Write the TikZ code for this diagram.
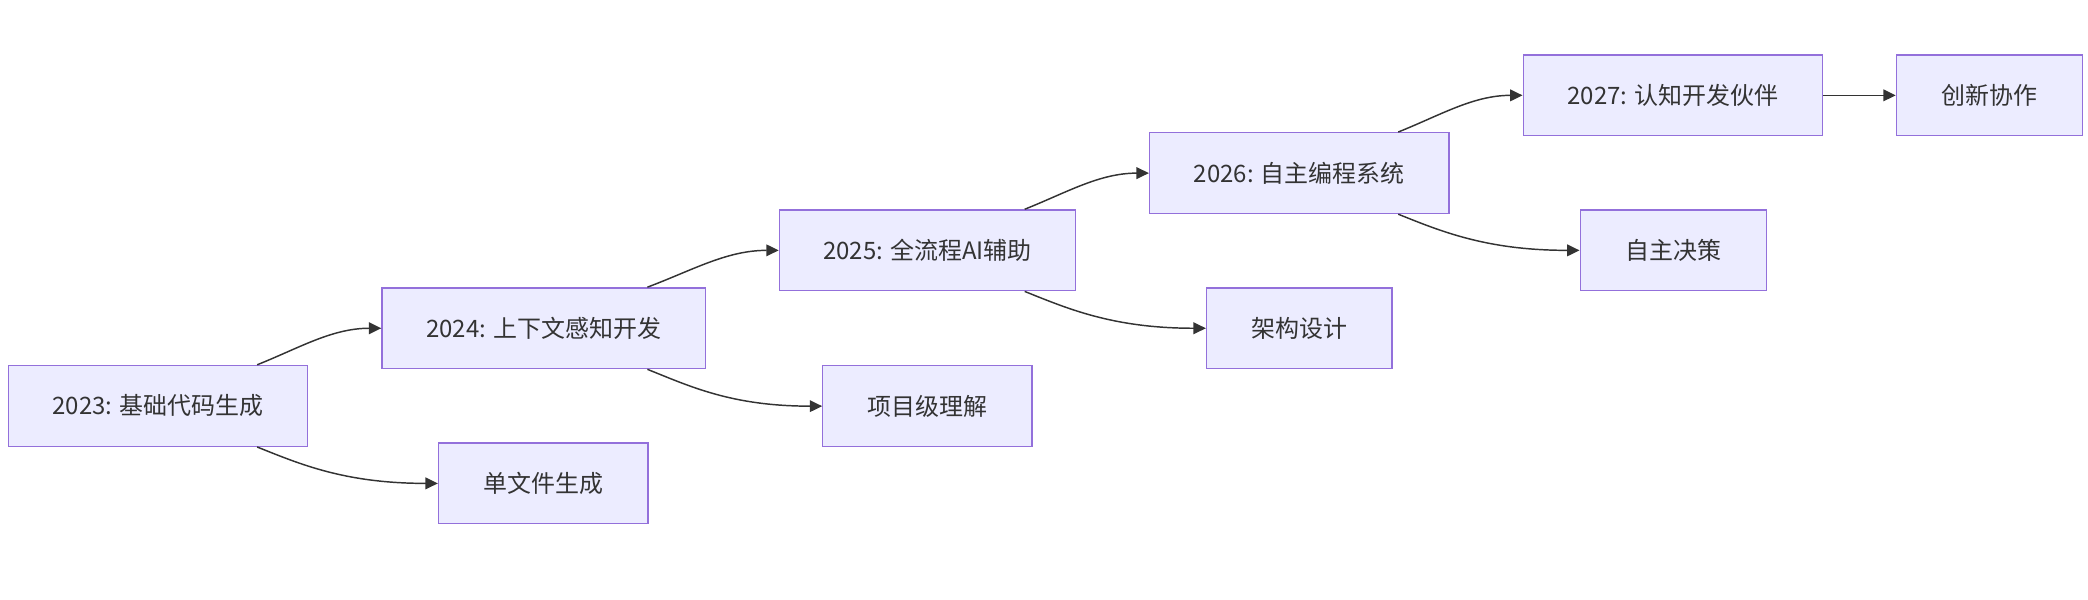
\documentclass[tikz,border=0pt]{standalone}
\usepackage{fontspec}
\setmainfont{Noto Sans CJK SC}
\usetikzlibrary{arrows.meta,calc}
\definecolor{boxfill}{HTML}{ECECFF}
\definecolor{boxline}{HTML}{9370DB}
\definecolor{edgecol}{HTML}{333333}
\begin{document}
\begin{tikzpicture}[x=1pt,y=-1pt,
  box/.style={draw=boxline,fill=boxfill,line width=1pt,minimum height=60.7pt,inner sep=0pt,text=edgecol,font=\fontsize{18}{22}\selectfont},
  edge/.style={draw=edgecol,line width=1.1pt,-{Triangle[length=9.3pt,width=8.8pt]}}]
\useasboundingbox (0,0) rectangle (1568,450);
\node[box,minimum width=224.8pt] (n23) at (118.6,304.8) {2023: 基础代码生成};
\node[box,minimum width=157.2pt] (n1) at (407.9,363) {单文件生成};
\node[box,minimum width=242.7pt] (n24) at (408.2,246.5) {2024: 上下文感知开发};
\node[box,minimum width=157.2pt] (n2) at (696.5,305) {项目级理解};
\node[box,minimum width=222.5pt] (n25) at (696.5,188) {2025: 全流程AI辅助};
\node[box,minimum width=139.3pt] (n3) at (975.7,246.5) {架构设计};
\node[box,minimum width=224.9pt] (n26) at (975.7,130) {2026: 自主编程系统};
\node[box,minimum width=139.7pt] (n4) at (1256.5,188) {自主决策};
\node[box,minimum width=224.9pt] (n27) at (1256.3,71.6) {2027: 认知开发伙伴};
\node[box,minimum width=139.8pt] (n5) at (1494,71.6) {创新协作};
% upper edges
\draw[edge] ($(n23.north)+(74.5,0)$) .. controls +(32,-12.8) and +(-37,0) .. (n24.west);
\draw[edge] ($(n24.north)+(78,0)$) .. controls +(34,-12.8) and +(-39,0) .. (n25.west);
\draw[edge] ($(n25.north)+(73,0)$) .. controls +(32,-12.8) and +(-37,0) .. (n26.west);
\draw[edge] ($(n26.north)+(74.3,0)$) .. controls +(32,-12.8) and +(-37,0) .. (n27.west);
% lower edges
\draw[edge] ($(n23.south)+(74.5,0)$) .. controls +(32,12.8) and +(-70,0) .. (n1.west);
\draw[edge] ($(n24.south)+(78,0)$) .. controls +(32,12.8) and +(-68,0) .. (n2.west);
\draw[edge] ($(n25.south)+(73,0)$) .. controls +(32,12.8) and +(-70,0) .. (n3.west);
\draw[edge] ($(n26.south)+(74.3,0)$) .. controls +(32,12.8) and +(-70,0) .. (n4.west);
\draw[edge] (n27.east) -- (n5.west);
\end{tikzpicture}
\end{document}
